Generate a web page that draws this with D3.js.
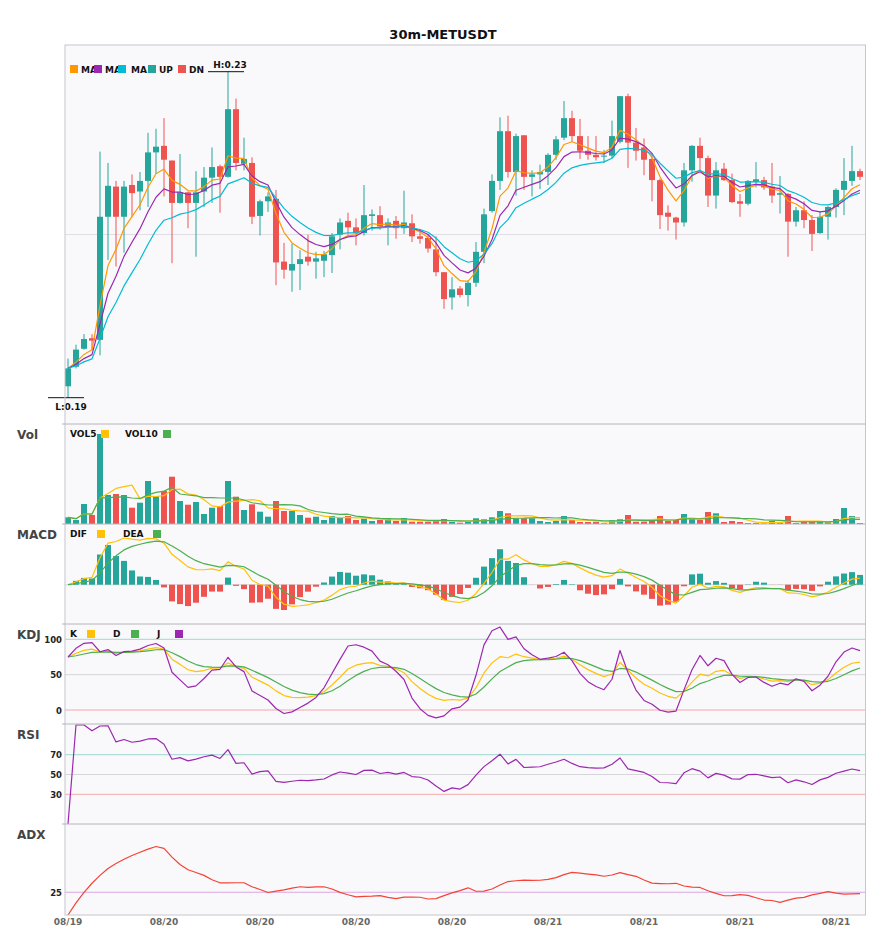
<!DOCTYPE html>
<html><head><meta charset="utf-8">
<script src="https://cdn.jsdelivr.net/npm/d3@7"></script>
<style>body{margin:0;background:#fff;} svg{display:block;font-family:"DejaVu Sans",sans-serif;}</style>
</head><body><svg id="chart" width="885" height="950"></svg>
<script>
// ---------------- data ----------------
const chartTitle = "30m-METUSDT";
const opens = [0.1914,0.1938,0.1960,0.1973,0.1971,0.2122,0.2159,0.2122,0.2161,0.2153,
0.2166,0.2201,0.2209,0.2191,0.2139,0.2152,0.2139,0.2153,0.2170,0.2184,
0.2171,0.2254,0.2187,0.2188,0.2123,0.2141,0.2144,0.2067,0.2056,0.2064,
0.2073,0.2067,0.2068,0.2075,0.2100,0.2117,0.2109,0.2102,0.2123,0.2124,
0.2111,0.2117,0.2108,0.2114,0.2098,0.2096,0.2082,0.2054,0.2023,0.2034,
0.2026,0.2041,0.2079,0.2129,0.2166,0.2227,0.2177,0.2222,0.2171,0.2174,
0.2177,0.2198,0.2219,0.2243,0.2221,0.2203,0.2198,0.2196,0.2197,0.2214,
0.2270,0.2213,0.2207,0.2193,0.2167,0.2127,0.2121,0.2115,0.2179,0.2209,
0.2194,0.2148,0.2181,0.2167,0.2141,0.2138,0.2165,0.2167,0.2159,0.2149,
0.2150,0.2116,0.2130,0.2118,0.2102,0.2122,0.2134,0.2155,0.2166,0.2178];
const highs = [0.1948,0.1965,0.1978,0.1978,0.2202,0.2188,0.2166,0.2166,0.2174,0.2177,
0.2225,0.2230,0.2243,0.2191,0.2199,0.2153,0.2178,0.2183,0.2207,0.2186,
0.2300,0.2267,0.2219,0.2195,0.2143,0.2152,0.2155,0.2090,0.2089,0.2081,
0.2100,0.2079,0.2080,0.2102,0.2120,0.2127,0.2120,0.2161,0.2131,0.2135,
0.2120,0.2123,0.2154,0.2125,0.2106,0.2100,0.2098,0.2054,0.2048,0.2037,
0.2044,0.2091,0.2132,0.2174,0.2244,0.2246,0.2224,0.2222,0.2179,0.2186,
0.2200,0.2221,0.2264,0.2252,0.2242,0.2221,0.2221,0.2204,0.2240,0.2270,
0.2273,0.2231,0.2218,0.2198,0.2169,0.2136,0.2122,0.2188,0.2210,0.2219,
0.2197,0.2189,0.2188,0.2175,0.2150,0.2167,0.2189,0.2171,0.2188,0.2172,
0.2151,0.2134,0.2141,0.2124,0.2129,0.2135,0.2157,0.2194,0.2209,0.2181];
const lows = [0.1900,0.1936,0.1959,0.1959,0.1952,0.2069,0.2061,0.2078,0.2122,0.2130,
0.2134,0.2175,0.2147,0.2065,0.2138,0.2108,0.2073,0.2134,0.2139,0.2127,
0.2170,0.2179,0.2179,0.2113,0.2099,0.2128,0.2038,0.2046,0.2030,0.2032,
0.2062,0.2046,0.2048,0.2053,0.2082,0.2100,0.2087,0.2099,0.2105,0.2106,
0.2087,0.2095,0.2101,0.2091,0.2089,0.2078,0.2049,0.2009,0.2008,0.2023,
0.2012,0.2036,0.2065,0.2127,0.2155,0.2170,0.2148,0.2155,0.2147,0.2156,
0.2161,0.2192,0.2216,0.2214,0.2193,0.2192,0.2191,0.2188,0.2194,0.2212,
0.2182,0.2191,0.2173,0.2141,0.2107,0.2105,0.2094,0.2110,0.2165,0.2179,
0.2134,0.2132,0.2166,0.2139,0.2122,0.2136,0.2158,0.2155,0.2139,0.2126,
0.2073,0.2110,0.2108,0.2080,0.2101,0.2094,0.2121,0.2124,0.2160,0.2167];
const closes = [0.1936,0.1959,0.1972,0.1970,0.2122,0.2160,0.2122,0.2159,0.2151,0.2166,
0.2201,0.2208,0.2192,0.2139,0.2152,0.2139,0.2152,0.2170,0.2183,0.2171,
0.2254,0.2188,0.2193,0.2122,0.2141,0.2147,0.2066,0.2057,0.2064,0.2070,
0.2067,0.2071,0.2076,0.2098,0.2115,0.2109,0.2102,0.2124,0.2125,0.2110,
0.2115,0.2108,0.2115,0.2098,0.2095,0.2083,0.2054,0.2021,0.2033,0.2026,
0.2041,0.2079,0.2125,0.2166,0.2227,0.2177,0.2221,0.2171,0.2174,0.2177,
0.2198,0.2217,0.2243,0.2221,0.2203,0.2198,0.2195,0.2197,0.2221,0.2270,
0.2213,0.2203,0.2192,0.2167,0.2124,0.2122,0.2115,0.2179,0.2209,0.2194,
0.2148,0.2179,0.2167,0.2140,0.2138,0.2166,0.2168,0.2158,0.2148,0.2151,
0.2116,0.2130,0.2118,0.2101,0.2122,0.2134,0.2155,0.2166,0.2178,0.2171];
const volumes = [134,80,400,180,1800,580,600,580,326,426,
860,560,660,946,460,386,440,200,326,360,
860,546,280,394,246,146,460,260,260,180,
126,146,80,160,126,160,80,106,60,80,
94,60,120,46,46,46,60,100,46,26,
46,114,94,134,260,214,114,114,114,60,
40,60,160,80,40,40,46,14,74,94,
180,46,46,80,160,60,80,200,94,80,
240,214,40,60,40,20,20,10,60,20,
160,20,40,40,40,40,100,320,160,20];
const xTickIndex = [0,12,24,36,48,60,72,84,96];
const xTickLabels = ["08/19","08/20","08/20","08/20","08/20","08/21","08/21","08/21","08/21"];
const maPeriods = [5,8,13];
const maLegend = ["MA5","MA8","MA13","UP","DN"];
const volLegend = ["VOL5","VOL10"];
const macdLegend = ["DIF","DEA"];
const kdjLegend = ["K","D","J"];
const kdjLevels = [100,50,0];
const rsiLevels = [70,50,30];
const adxLevels = [25];

// ---------------- derived indicators ----------------
const N = closes.length;
const sma = (arr,n)=>arr.map((_,i)=>d3.mean(arr.slice(Math.max(0,i-n+1),i+1)));
const ema = (arr,n)=>{const a=2/(n+1),o=[];arr.forEach((v,i)=>o.push(i===0?v:o[i-1]+a*(v-o[i-1])));return o;};
const rma = (arr,n)=>{let v=0;return arr.map(z=>v=v+(z-v)/n);};
const maLines = maPeriods.map(p=>ema(closes,p));
const vol5=sma(volumes,5), vol10=sma(volumes,10);
const eF=ema(closes,5), eS=ema(closes,13);
const dif=eF.map((v,i)=>v-eS[i]);
const dea=ema(dif,5);
const hist=dif.map((v,i)=>2*(v-dea[i]));
const kV=[],dV=[],jV=[];
for(let i=0;i<N;i++){
  const s=Math.max(0,i-8);
  const lo=d3.min(lows.slice(s,i+1)), hi=d3.max(highs.slice(s,i+1));
  const rsv= hi>lo ? (closes[i]-lo)/(hi-lo)*100 : 50;
  const k = i===0 ? rsv : kV[i-1]*2/3 + rsv/3;
  const d = i===0 ? rsv : dV[i-1]*2/3 + k/3;
  kV.push(k); dV.push(d); jV.push(3*k-2*d);
}
const chg = closes.map((c,i)=>i===0?0:c-closes[i-1]);
const gS=rma(chg.map(c=>Math.max(c,0)),14), lS=rma(chg.map(c=>Math.max(-c,0)),14);
const rsiV=gS.map((g,i)=>g+lS[i]>0?100*g/(g+lS[i]):0);
const trA=[],pdmA=[],mdmA=[];
for(let i=0;i<N;i++){
  if(i===0){trA.push(highs[0]-lows[0]);pdmA.push(0);mdmA.push(0);continue;}
  const up=highs[i]-highs[i-1], dn=lows[i-1]-lows[i];
  pdmA.push(up>dn&&up>0?up:0); mdmA.push(dn>up&&dn>0?dn:0);
  trA.push(Math.max(highs[i]-lows[i],Math.abs(highs[i]-closes[i-1]),Math.abs(lows[i]-closes[i-1])));
}
const sTr=ema(trA,14), sP=ema(pdmA,14), sM=ema(mdmA,14);
const dxA=sTr.map((t,i)=>{const p=100*sP[i]/t,m=100*sM[i]/t;return p+m>0?100*Math.abs(p-m)/(p+m):0;});
const adxV=ema(dxA,14);

// ---------------- layout ----------------
const C = {up:"#26a69a", dn:"#ef5350", ma:["#ff9800","#9c27b0","#00bcd4"],
  yellow:"#ffc107", green:"#4caf50", purple:"#9c27b0", adx:"#f44336"};
const L = 65, R = 865.5;
const P = {main:[45,424], vol:[424,524], macd:[524,624], kdj:[624,724], rsi:[724,824], adx:[824,915]};
const svg = d3.select("#chart");
svg.append("rect").attr("width",885).attr("height",950).attr("fill","#fff");
svg.append("rect").attr("x",L).attr("y",45).attr("width",R-L).attr("height",915-45).attr("fill","#f9f9fb");
const defs = svg.append("defs");
Object.entries(P).forEach(([k,[t,b]])=>{
  defs.append("clipPath").attr("id","clip-"+k).append("rect").attr("x",L).attr("y",t).attr("width",R-L).attr("height",b-t);
});
const x = d3.scalePoint().domain(d3.range(N)).range([64,864]).padding(0.5);
const bw = 6;

svg.append("text").attr("x",443).attr("y",39).attr("text-anchor","middle")
  .attr("font-size",13).attr("font-weight","bold").attr("fill","#111").text(chartTitle);

function hline(y,color,g){ (g||svg).append("line").attr("x1",L).attr("x2",R).attr("y1",y).attr("y2",y).attr("stroke",color).attr("stroke-width",1); }
function line(g, ys, data, color, w){
  g.append("path").datum(data).attr("fill","none").attr("stroke",color).attr("stroke-width",w||1.2)
   .attr("stroke-linejoin","round")
   .attr("d", d3.line().x((d,i)=>x(i)).y(d=>ys(d)));
}
function legend(top, items, colors, textX, boxX){
  items.forEach((t,i)=>{
    svg.append("text").attr("x",textX[i]).attr("y",top+13).attr("font-size",9).attr("font-weight","bold").attr("fill","#111").text(t);
    svg.append("rect").attr("x",boxX[i]).attr("y",top+6).attr("width",8).attr("height",8).attr("fill",colors[i]);
  });
}
function panelLabel(top, t){
  svg.append("text").attr("x",17).attr("y",top+15).attr("font-size",12).attr("font-weight","bold").attr("fill","#444").text(t);
}
function yTicks(ys, levels){
  levels.forEach(v=>svg.append("text").attr("x",62).attr("y",ys(v)+3.5).attr("text-anchor","end")
    .attr("font-size",8.5).attr("font-weight","bold").attr("fill","#222").text(v));
}
const levelColor = v => v>=70 ? "#9fd6d2" : (v<=30 ? "#f5a9a9" : "#d6d6da");

// ---------------- main panel ----------------
const [mt,mb] = P.main;
const lo = d3.min(lows), hi = d3.max(highs);
const yM = d3.scaleLinear().domain([lo,hi]).range([mb-26.3, mt+26.7]);
hline((mt+mb)/2, "#e2dde2");
const gM = svg.append("g").attr("clip-path","url(#clip-main)");
const isUp = i => closes[i] >= opens[i];
d3.range(N).forEach(i=>{
  const col = isUp(i)?C.up:C.dn;
  gM.append("line").attr("x1",x(i)).attr("x2",x(i)).attr("y1",yM(highs[i])).attr("y2",yM(lows[i])).attr("stroke",col).attr("stroke-width",1);
  const y1 = yM(Math.max(opens[i],closes[i])), y2 = yM(Math.min(opens[i],closes[i]));
  gM.append("rect").attr("x",x(i)-bw/2).attr("y",y1).attr("width",bw).attr("height",Math.max(1,y2-y1)).attr("fill",col);
});
maLines.forEach((m,k)=>line(gM,yM,m,C.ma[k]));
const iHi = highs.indexOf(hi), iLo = lows.indexOf(lo);
svg.append("line").attr("x1",x(iHi)-20).attr("x2",x(iHi)+16).attr("y1",yM(hi)).attr("y2",yM(hi)).attr("stroke","#111");
svg.append("text").attr("x",x(iHi)+2).attr("y",yM(hi)-3.5).attr("text-anchor","middle").attr("font-size",9).attr("font-weight","bold").attr("fill","#111").text("H:"+hi.toFixed(2));
svg.append("line").attr("x1",x(iLo)-20).attr("x2",x(iLo)+16).attr("y1",yM(lo)).attr("y2",yM(lo)).attr("stroke","#111");
svg.append("text").attr("x",x(iLo)+3).attr("y",yM(lo)+12.5).attr("text-anchor","middle").attr("font-size",9).attr("font-weight","bold").attr("fill","#111").text("L:"+lo.toFixed(2));
const maBox=[70,94,118,148,178], maText=[81,105,131,159,189];
const maCols=C.ma.concat([C.up,C.dn]);
maLegend.forEach((t,i)=>{
  const lim = i<maBox.length-1 ? maBox[i+1] : 240;
  defs.append("clipPath").attr("id","lg"+i).append("rect").attr("x",maText[i]).attr("y",55).attr("width",lim-maText[i]).attr("height",20);
  svg.append("text").attr("x",maText[i]).attr("y",72.5).attr("font-size",9).attr("font-weight","bold").attr("fill","#111")
    .attr("clip-path","url(#lg"+i+")").text(t);
  svg.append("rect").attr("x",maBox[i]).attr("y",65).attr("width",8).attr("height",8).attr("fill",maCols[i]);
});

// ---------------- volume ----------------
const [vt,vb] = P.vol;
const yV = d3.scaleLinear().domain([0, d3.max(volumes)/0.9]).range([vb, vt]);
const gV = svg.append("g").attr("clip-path","url(#clip-vol)");
d3.range(N).forEach(i=>{
  gV.append("rect").attr("x",x(i)-bw/2).attr("y",yV(volumes[i])).attr("width",bw).attr("height",vb-yV(volumes[i]))
    .attr("fill",isUp(i)?C.up:C.dn);
});
line(gV,yV,vol5,C.yellow); line(gV,yV,vol10,C.green);
panelLabel(vt,"Vol");
legend(vt, volLegend, [C.yellow,C.green], [70,125],[101,163]);

// ---------------- MACD ----------------
const [ct,cb] = P.macd;
const mExt = d3.extent(dif.concat(dea,hist));
const yC = d3.scaleLinear().domain(mExt).range([cb-14, ct+14]);
const gC = svg.append("g").attr("clip-path","url(#clip-macd)");
hline(yC(0), "#d8d8dc", gC);
d3.range(N).forEach(i=>{
  const y0=yC(0), y1=yC(hist[i]);
  gC.append("rect").attr("x",x(i)-bw/2).attr("y",Math.min(y0,y1)).attr("width",bw).attr("height",Math.abs(y1-y0))
    .attr("fill",hist[i]>=0?C.up:C.dn);
});
line(gC,yC,dif,C.yellow); line(gC,yC,dea,C.green);
panelLabel(ct,"MACD");
legend(ct, macdLegend, [C.yellow,C.green], [70,123],[97,153]);

// ---------------- KDJ ----------------
const [kt,kb] = P.kdj;
const yK = d3.scaleLinear().domain([0,100]).range([710, 639.3]);
const gK = svg.append("g").attr("clip-path","url(#clip-kdj)");
kdjLevels.forEach(v=>hline(yK(v), levelColor(v), gK));
line(gK,yK,kV,C.yellow); line(gK,yK,dV,C.green); line(gK,yK,jV,C.purple);
panelLabel(kt,"KDJ"); yTicks(yK,kdjLevels);
legend(kt, kdjLegend, [C.yellow,C.green,C.purple], [70,113,157],[87,131,175]);

// ---------------- RSI ----------------
const [rt,rb] = P.rsi;
const yR = d3.scaleLinear().domain([0,100]).range([rb, rt+1]);
const gR = svg.append("g").attr("clip-path","url(#clip-rsi)");
rsiLevels.forEach(v=>hline(yR(v), levelColor(v), gR));
line(gR,yR,rsiV,C.purple);
panelLabel(rt,"RSI"); yTicks(yR,rsiLevels);

// ---------------- ADX ----------------
const [at,ab] = P.adx;
const yA = d3.scaleLinear().domain([0,100]).range([ab, at]);
const gA = svg.append("g").attr("clip-path","url(#clip-adx)");
adxLevels.forEach(v=>hline(yA(v), "#dca6e4", gA));
line(gA,yA,adxV,C.adx);
panelLabel(at,"ADX"); yTicks(yA,adxLevels);

// ---------------- frame, separators, x axis ----------------
svg.append("rect").attr("x",L).attr("y",45).attr("width",R-L).attr("height",915-45).attr("fill","none").attr("stroke","#c6c6ce");
[424,524,624,724,824].forEach(y=>{
  svg.append("line").attr("x1",L-3).attr("x2",R).attr("y1",y).attr("y2",y).attr("stroke","#b4b4bc");
});
xTickIndex.forEach((idx,k)=>{
  svg.append("text").attr("x",x(idx)).attr("y",925).attr("text-anchor","middle").attr("font-size",9)
    .attr("font-weight","bold").attr("fill","#666").text(xTickLabels[k]);
});
</script></body></html>
